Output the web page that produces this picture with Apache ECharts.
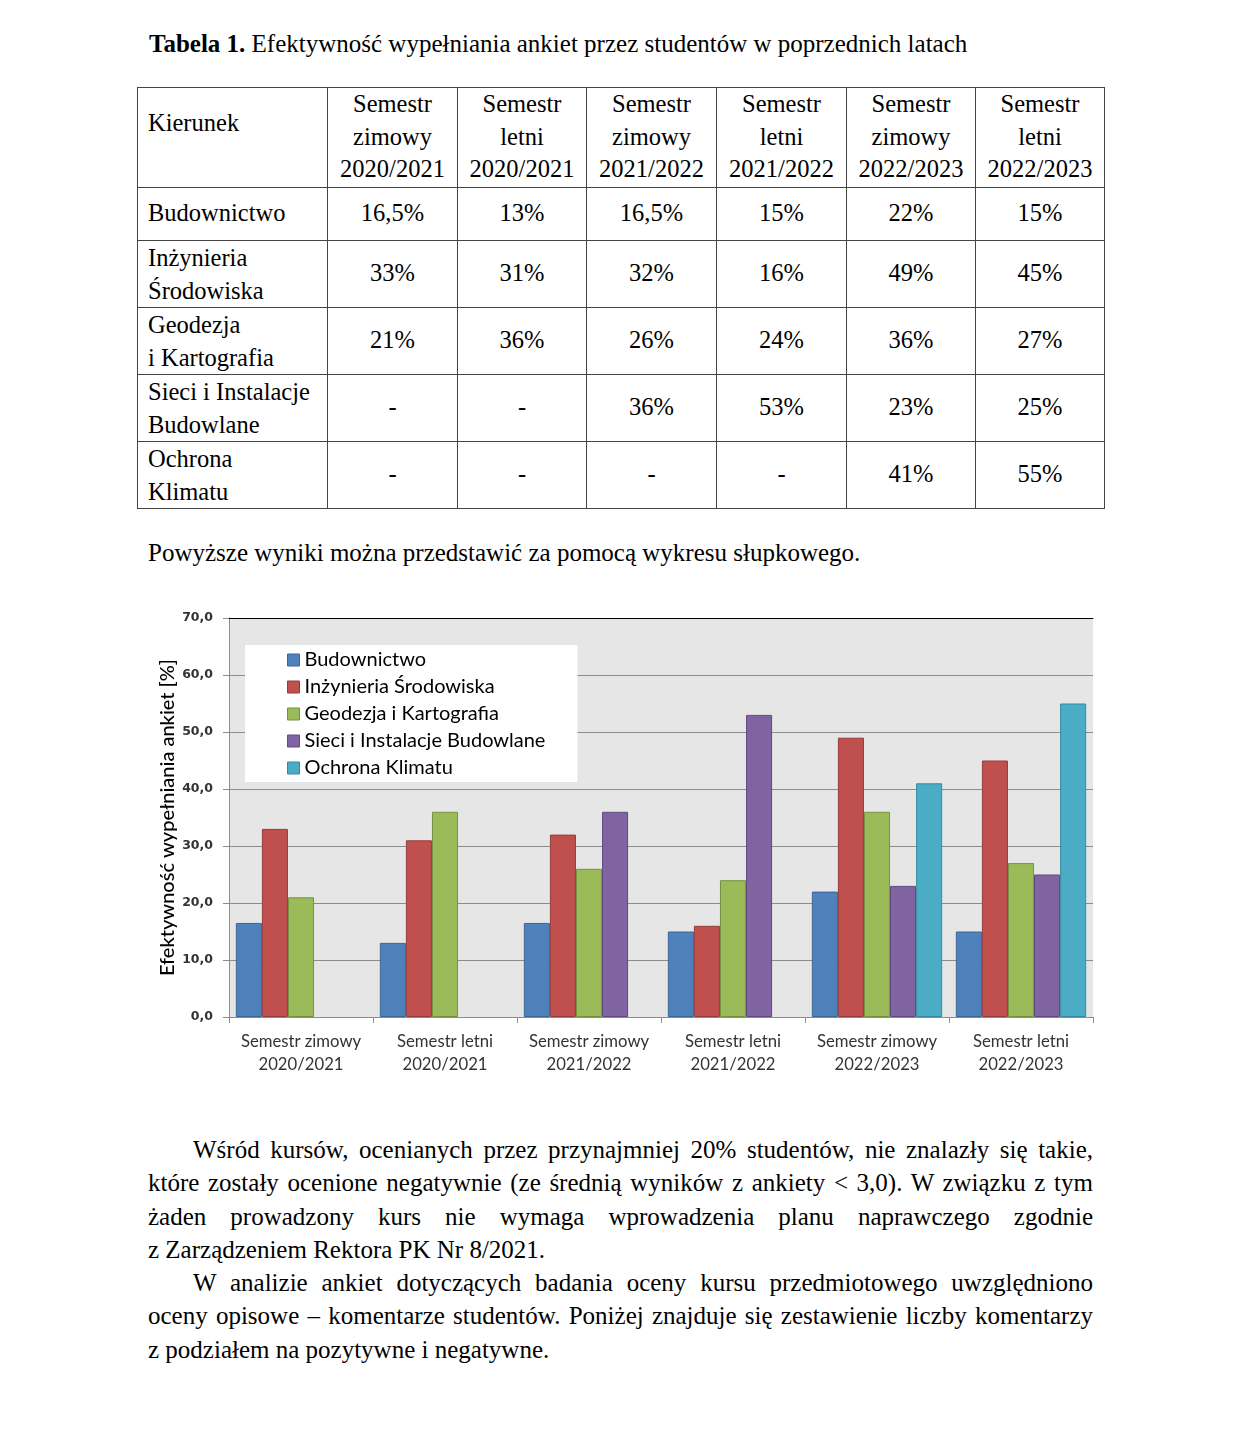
<!DOCTYPE html>
<html>
<head>
<meta charset="utf-8">
<script src="https://cdn.jsdelivr.net/npm/echarts@6/dist/echarts.min.js"></script>
<style>
html,body{margin:0;padding:0;background:#fff;}
body{width:1240px;height:1432px;position:relative;overflow:hidden;font-family:"Liberation Serif","Times New Roman",serif;color:#000;}
.abs{position:absolute;}
#title{left:149px;top:28px;font-size:25px;line-height:32px;white-space:nowrap;}
#tbl{position:absolute;left:137px;top:87px;border-collapse:collapse;table-layout:fixed;width:968px;font-size:24.5px;}
#tbl td{border:1px solid #444;padding:0;text-align:center;vertical-align:middle;line-height:33px;}
#tbl td.first{text-align:left;padding-left:10px;}
#tbl td span.v{position:relative;top:-2px;}
#tbl tr.head td{vertical-align:top;line-height:32.5px;}
#tbl tr.head td.first{padding-top:19px;}
#sub{left:148px;top:537px;font-size:25px;line-height:32px;white-space:nowrap;}
#para{left:148px;top:1133px;width:945px;font-size:25px;}
#para div{height:33.3px;line-height:33.3px;white-space:nowrap;}
#para div.j{text-align:justify;text-align-last:justify;white-space:normal;}
#para div.ind{text-indent:45px;}
#chart{position:absolute;left:140px;top:600px;width:970px;height:490px;}
</style>
</head>
<body>
<div id="title" class="abs"><b>Tabela 1.</b> Efektywność wypełniania ankiet przez studentów w poprzednich latach</div>
<table id="tbl"></table>
<div id="sub" class="abs">Powyższe wyniki można przedstawić za pomocą wykresu słupkowego.</div>
<div id="chart"></div>
<div id="para" class="abs">
<div class="j ind">Wśród kursów, ocenianych przez przynajmniej 20% studentów, nie znalazły się takie,</div>
<div class="j">które zostały ocenione negatywnie (ze średnią wyników z ankiety &lt; 3,0). W związku z tym</div>
<div class="j">żaden prowadzony kurs nie wymaga wprowadzenia planu naprawczego zgodnie</div>
<div>z Zarządzeniem Rektora PK Nr 8/2021.</div>
<div class="j ind">W analizie ankiet dotyczących badania oceny kursu przedmiotowego uwzględniono</div>
<div class="j">oceny opisowe – komentarze studentów. Poniżej znajduje się zestawienie liczby komentarzy</div>
<div>z podziałem na pozytywne i negatywne.</div>
</div>
<script>
// ---- data ----
const semesters = ["Semestr zimowy\n2020/2021","Semestr letni\n2020/2021","Semestr zimowy\n2021/2022","Semestr letni\n2021/2022","Semestr zimowy\n2022/2023","Semestr letni\n2022/2023"];
const tableHeaders = ["Semestr<br>zimowy<br>2020/2021","Semestr<br>letni<br>2020/2021","Semestr<br>zimowy<br>2021/2022","Semestr<br>letni<br>2021/2022","Semestr<br>zimowy<br>2022/2023","Semestr<br>letni<br>2022/2023"];
const tableRowNames = ["Budownictwo","Inżynieria<br>Środowiska","Geodezja<br>i Kartografia","Sieci i Instalacje<br>Budowlane","Ochrona<br>Klimatu"];
const seriesNames = ["Budownictwo","Inżynieria Środowiska","Geodezja i Kartografia","Sieci i Instalacje Budowlane","Ochrona Klimatu"];
const budownictwo = [16.5, 13, 16.5, 15, 22, 15];
const inzynieria = [33, 31, 32, 16, 49, 45];
const geodezja = [21, 36, 26, 24, 36, 27];
const sieci = [null, null, 36, 53, 23, 25];
const ochrona = [null, null, null, null, 41, 55];
const yTicks = [0, 10, 20, 30, 40, 50, 60, 70];

// ---- table ----
const allSeries = [budownictwo, inzynieria, geodezja, sieci, ochrona];
const colW = [190,130,129,130,130,129,129];
const rowH = [100,53,67,67,67,67];
function fmt(v){ if(v===null) return "-"; return String(v).replace(".", ",") + "%"; }
let html = "<colgroup>" + colW.map(w=>'<col style="width:'+w+'px">').join("") + "</colgroup>";
html += '<tr class="head" style="height:'+rowH[0]+'px"><td class="first">Kierunek</td>' + tableHeaders.map(h=>"<td>"+h+"</td>").join("") + "</tr>";
tableRowNames.forEach((n,i)=>{
  const nm = n.indexOf("<br>") < 0 ? '<span class="v">'+n+'</span>' : n;
  html += '<tr style="height:'+rowH[i+1]+'px"><td class="first">'+nm+'</td>' + allSeries[i].map(v=>'<td><span class="v">'+fmt(v)+"</span></td>").join("") + "</tr>";
});
document.getElementById("tbl").innerHTML = html;

// ---- chart ----
const colors = ["#4f81bd","#c0504d","#9bbb59","#8064a2","#4bacc6"];
const borders = ["#3a6596","#953c3a","#77913f","#614b7e","#3689a0"];
const chart = echarts.init(document.getElementById("chart"), null, {renderer:"canvas"});
chart.setOption({
  animation:false,
  color: colors,
  grid:{left:89, top:18, width:864, height:399, show:true, backgroundColor:"#e6e6e6", borderWidth:0, containLabel:false},
  legend:{
    orient:"vertical", left:105, top:45,
    backgroundColor:"#ffffff", padding:[5,32,4,42],
    itemWidth:12, itemHeight:12, itemGap:7, icon:"rect",
    itemStyle:{borderWidth:1},
    textStyle:{fontFamily:"Lato", fontSize:20, color:"#000", lineHeight:19, padding:[0,0,0,0]},
    data: seriesNames
  },
  xAxis:[{
    type:"category", data:semesters,
    axisLine:{lineStyle:{color:"#8c8c8c", width:1}},
    axisTick:{show:true, length:6, lineStyle:{color:"#8c8c8c"}},
    axisLabel:{fontFamily:"Lato", fontSize:16.7, color:"#333", lineHeight:23, margin:13, interval:0}
  },{
    type:"category", data:semesters, position:"top",
    axisLine:{show:true, lineStyle:{color:"#000", width:1}},
    axisTick:{show:false}, axisLabel:{show:false}
  }],
  yAxis:{
    type:"value", min:0, max:70, interval:10,
    name:"Efektywność wypełniania ankiet [%]", nameLocation:"middle", nameGap:51, nameRotate:90,
    nameMoveOverlap:false,
    nameTextStyle:{fontFamily:"Lato", fontSize:20, color:"#000", fontWeight:500},
    axisLine:{show:true, lineStyle:{color:"#8c8c8c"}},
    axisTick:{show:true, length:6, lineStyle:{color:"#8c8c8c"}},
    splitLine:{show:true, lineStyle:{color:"#8c8c8c", width:1}},
    axisLabel:{fontFamily:"DejaVu Sans", fontWeight:"bold", fontSize:12.5, color:"#333", margin:16,
      formatter:v=>yTicks.includes(v) ? v.toFixed(1).replace(".", ",") : ""}
  },
  series: allSeries.map((d,i)=>({
    name: seriesNames[i], type:"bar", data:d, barGap:"0%", barCategoryGap:"9.5%",
    itemStyle:{color:colors[i], borderColor:borders[i], borderWidth:1}
  }))
});
</script>
</body>
</html>
